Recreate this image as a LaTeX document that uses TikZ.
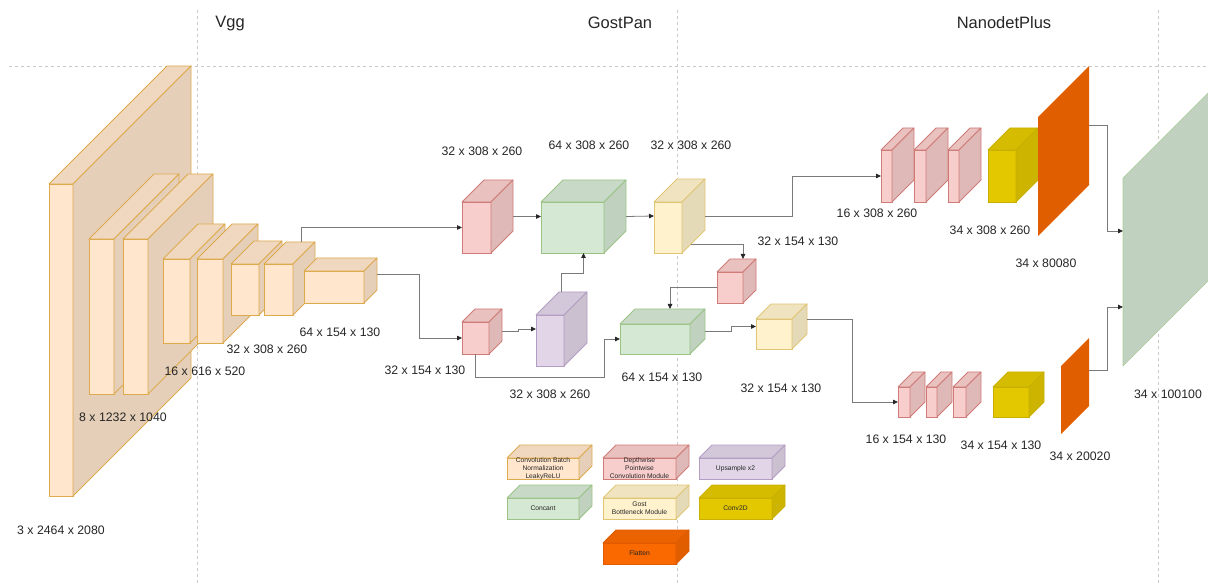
\documentclass[tikz,border=0pt]{standalone}
\usepackage{fontspec}
\setmainfont{Liberation Sans}
\usetikzlibrary{arrows.meta}

\definecolor{peachF}{HTML}{FFE6CC}\definecolor{peachS}{HTML}{DDAA4E}
\definecolor{redF}{HTML}{F8CECC}\definecolor{redS}{HTML}{CF7B77}
\definecolor{greenF}{HTML}{D5E8D4}\definecolor{greenS}{HTML}{9CC386}
\definecolor{yelF}{HTML}{FFF2CC}\definecolor{yelS}{HTML}{E0C574}
\definecolor{purF}{HTML}{E1D5E7}\definecolor{purS}{HTML}{B49DC2}
\definecolor{convF}{HTML}{E3C800}\definecolor{convS}{HTML}{C9B000}
\definecolor{flatF}{HTML}{FA6800}\definecolor{flatS}{HTML}{E05A00}
\definecolor{guide}{HTML}{C8C8C8}
\definecolor{wire}{HTML}{7A7A7A}
\definecolor{ink}{HTML}{262626}

% #1 name, #2 x, #3 y (front top-left), #4 width, #5 height, #6 depth, #7 fill, #8 stroke
\newcommand\cuboid[8]{%
  \node[cubefront, fill=#7, draw=#8, minimum width=#4pt, minimum height=#5pt,
        anchor=north west] (#1) at (#2,#3) {};
  \filldraw[cubeside, fill=#7!94!black, draw=#8]
    (#1.north west) -- ++(#6,-#6) -- ++(#4,0) -- (#1.north east) -- cycle;
  \filldraw[cubeside, fill=#7!90!black, draw=#8]
    (#1.north east) -- ++(#6,-#6) -- ++(0,#5) -- (#1.south east) -- cycle;
  \node[bbox, minimum width=#4pt+#6pt, minimum height=#5pt+#6pt,
        anchor=south west] (#1-b) at (#1.south west) {};
}

\begin{document}
\begin{tikzpicture}[x=1pt,y=-1pt,
  cubefront/.style={rectangle, line width=0.8pt, inner sep=0pt, outer sep=0pt},
  cubeside/.style={line width=0.8pt, line join=round},
  bbox/.style={rectangle, inner sep=0pt, outer sep=0pt},
  guideline/.style={draw=guide, line width=0.7pt, dash pattern=on 3pt off 3pt},
  conn/.style={draw=wire, line width=0.8pt, -{Triangle[length=5pt,width=4.5pt,color=ink]}},
  dimtxt/.style={font=\fontsize{12.3}{14}\selectfont, text=ink, inner sep=0pt},
  titletxt/.style={font=\fontsize{16.5}{19}\selectfont, text=ink, inner sep=0pt},
  legtxt/.style={font=\fontsize{6.7}{8}\selectfont, text=ink, align=center, inner sep=0pt},
]
\useasboundingbox (0,0) rectangle (1208,585);
\clip (0,0) rectangle (1208,585);

% section guides
\draw[guideline] (9,66) -- (1208,66);
\draw[guideline] (197,10) -- (197,585);
\draw[guideline] (677,10) -- (677,585);
\draw[guideline] (1158,10) -- (1158,585);

\node[titletxt] (tvgg) at (230,24) {Vgg};
\node[titletxt] (tpan) at (620,23) {GostPan};
\node[titletxt] (thead) at (1004,23) {NanodetPlus};

% Vgg backbone
\cuboid{v1}{49}{184}{24}{312}{118}{peachF}{peachS}
\cuboid{v2}{89}{239}{25}{155}{65}{peachF}{peachS}
\cuboid{v3}{123}{239}{25}{155}{65}{peachF}{peachS}
\cuboid{v4}{163}{259}{27}{84}{35}{peachF}{peachS}
\cuboid{v5}{197}{259}{26}{84}{35}{peachF}{peachS}
\cuboid{v6}{231}{264}{28}{51}{23}{peachF}{peachS}
\cuboid{v7}{264}{264}{29}{51}{22}{peachF}{peachS}
\cuboid{v8}{304}{271}{60}{32}{13}{peachF}{peachS}

\node[dimtxt] (d1) at (61,530) {3 x 2464 x 2080};
\node[dimtxt] (d2) at (123,417) {8 x 1232 x 1040};
\node[dimtxt] (d3) at (205,371) {16 x 616 x 520};
\node[dimtxt] (d4) at (267,349) {32 x 308 x 260};
\node[dimtxt] (d5) at (340,332) {64 x 154 x 130};

% GostPan neck
\cuboid{r1}{462}{202}{29}{51}{22}{redF}{redS}
\cuboid{g1}{541}{202}{63}{51}{22}{greenF}{greenS}
\cuboid{y1}{654}{202}{28}{51}{23}{yelF}{yelS}
\cuboid{r2}{717}{272}{26}{31}{13}{redF}{redS}
\cuboid{r3}{462}{322}{27}{32}{13}{redF}{redS}
\cuboid{p1}{536}{315}{28}{51}{23}{purF}{purS}
\cuboid{g2}{620}{324}{70}{30}{15}{greenF}{greenS}
\cuboid{y2}{756}{319}{36}{30}{15}{yelF}{yelS}

\node[dimtxt] (e1) at (482,151) {32 x 308 x 260};
\node[dimtxt] (e2) at (589,145) {64 x 308 x 260};
\node[dimtxt] (e3) at (691,145) {32 x 308 x 260};
\node[dimtxt] (e4) at (798,241) {32 x 154 x 130};
\node[dimtxt] (e5) at (425,370) {32 x 154 x 130};
\node[dimtxt] (e6) at (550,394) {32 x 308 x 260};
\node[dimtxt] (e7) at (662,377) {64 x 154 x 130};
\node[dimtxt] (e8) at (781,388) {32 x 154 x 130};

% NanodetPlus head, upper branch
\cuboid{ha1}{881}{150}{11}{52}{22}{redF}{redS}
\cuboid{ha2}{914}{150}{12}{52}{22}{redF}{redS}
\cuboid{ha3}{948}{150}{11}{52}{22}{redF}{redS}
\cuboid{ca}{988}{150}{28}{52}{22}{convF}{convS}
\fill[flatF!90!black] (1038,117) -- (1089,66) -- (1089,185) -- (1038,236) -- cycle;
\node[bbox, minimum width=51pt, minimum height=170pt, anchor=north west] (fa) at (1038,66) {};

% lower branch
\cuboid{hb1}{898}{387}{12}{30}{15}{redF}{redS}
\cuboid{hb2}{926}{387}{11}{30}{15}{redF}{redS}
\cuboid{hb3}{953}{387}{13}{30}{15}{redF}{redS}
\cuboid{cb}{993}{387}{36}{30}{15}{convF}{convS}
\fill[flatF!90!black] (1061,366) -- (1089,338) -- (1089,406) -- (1061,434) -- cycle;
\node[bbox, minimum width=28pt, minimum height=96pt, anchor=north west] (fb) at (1061,338) {};

% merged output
\filldraw[fill=greenF!90!black, draw=greenS!70!greenF, line width=0.6pt]
  (1123,178) -- (1300,1) -- (1300,189) -- (1123,366) -- cycle;
\node[bbox, minimum width=0pt, minimum height=188pt, anchor=north west] (gb) at (1123,178) {};

\node[dimtxt] (f1) at (877,213) {16 x 308 x 260};
\node[dimtxt] (f2) at (990,230) {34 x 308 x 260};
\node[dimtxt] (f3) at (1046,263) {34 x 80080};
\node[dimtxt] (f4) at (906,439) {16 x 154 x 130};
\node[dimtxt] (f5) at (1001,445) {34 x 154 x 130};
\node[dimtxt] (f6) at (1080,456) {34 x 20020};
\node[dimtxt] (f7) at (1168,394) {34 x 100100};

% connectors
\draw[conn] ([xshift=11.5pt]v7-b.north) |- (r1.west);
\draw[conn] ([yshift=6.5pt]v8-b.east) -| ([xshift=-43pt]r3.west) -- (r3.west);
\draw[conn] (r1-b.east) -- (g1-b.west);
\draw[conn] (g1-b.east) -- (y1-b.west);
\draw[conn] (y1-b.east) -| ([xshift=-89pt]ha1.west) -- (ha1.west);
\draw[conn] ([shift={(9pt,9pt)}]y1.south east) -| ([xshift=6.5pt]r2-b.north);
\draw[conn] (r2.west) -| ([xshift=7.5pt]g2-b.north);
\draw[conn] (r3-b.east) -- ++(16,0) |- (p1-b.west);
\draw[conn] (p1-b.north) -- ++(0,-19) -| (g1-b.south);
\draw[conn] (r3.south) -- ++(0,23) -| ([xshift=-16pt]g2.west) -- (g2.west);
\draw[conn] (g2-b.east) -- ++(26,0) |- (y2-b.west);
\draw[conn] ([yshift=7.5pt]y2-b.east) -| ([xshift=-46pt]hb1.west) -- (hb1.west);
\draw[conn] ([yshift=25.5pt]fa.east) -| ([shift={(-16pt,41pt)}]gb.west) -- ([yshift=41pt]gb.west);
\draw[conn] ([yshift=16pt]fb.east) -| ([shift={(-16pt,-35pt)}]gb.west) -- ([yshift=-35pt]gb.west);

% legend
\cuboid{lc}{507}{458}{72}{21}{13}{peachF}{peachS}
\cuboid{ld}{603}{458}{73}{21}{13}{redF}{redS}
\cuboid{lu}{699}{458}{73}{21}{13}{purF}{purS}
\cuboid{lk}{507}{498}{72}{21}{13}{greenF}{greenS}
\cuboid{lg}{603}{498}{73}{21}{13}{yelF}{yelS}
\cuboid{lv}{699}{498}{73}{21}{13}{convF}{convS}
\cuboid{lf}{603}{543}{73}{21}{13}{flatF}{flatS}

\node[legtxt] (lc-t) at (lc) {Convolution Batch\\Normalization\\LeakyReLU};
\node[legtxt] (ld-t) at (ld) {Depthwise\\Pointwise\\Convolution Module};
\node[legtxt] (lu-t) at (lu) {Upsample x2};
\node[legtxt] (lk-t) at (lk) {Concant};
\node[legtxt] (lg-t) at (lg) {Gost\\Bottleneck Module};
\node[legtxt] (lv-t) at (lv) {Conv2D};
\node[legtxt] (lf-t) at (lf) {Flatten};
\end{tikzpicture}
\end{document}
